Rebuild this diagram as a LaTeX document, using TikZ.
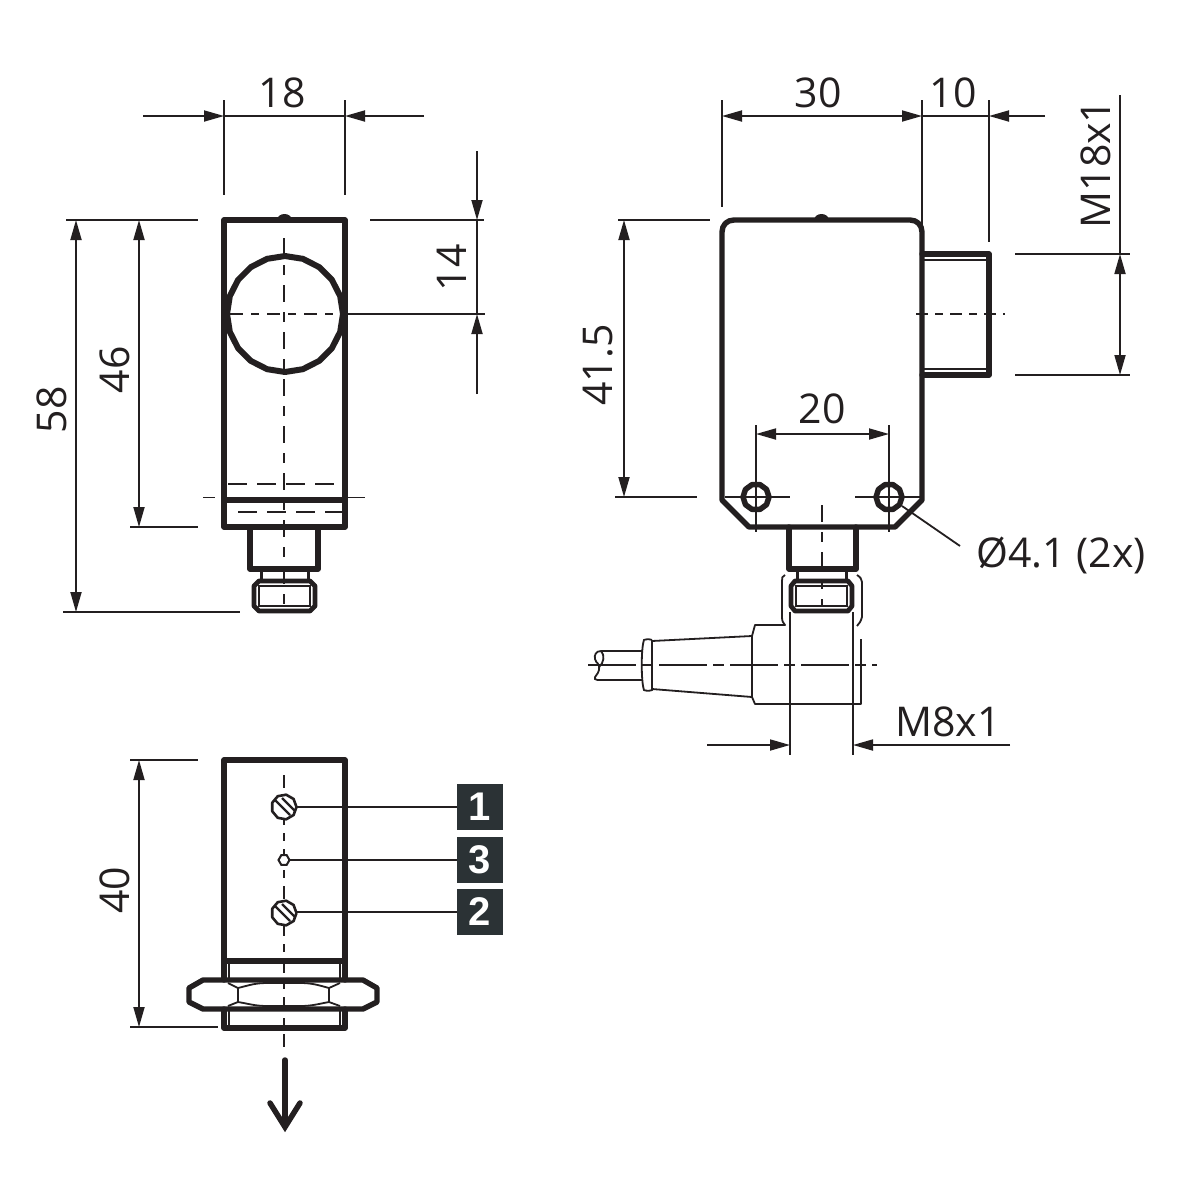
\documentclass[tikz,border=0pt]{standalone}
\usepackage{fontspec}
\setmainfont{Open Sans}
\newfontfamily\boldf{Liberation Sans}[BoldFont={Liberation Sans Bold}]
\usetikzlibrary{arrows.meta}
\definecolor{ink}{HTML}{231F20}
\definecolor{boxc}{HTML}{2B3235}
\tikzset{
  x=1pt,y=-1pt,
  thick line/.style={draw=ink,line width=5.4pt,line join=round,line cap=round},
  mid line/.style={draw=ink,line width=3pt,line join=round},
  thin line/.style={draw=ink,line width=1.8pt},
  inner line/.style={draw=ink,line width=1.5pt},
  head line/.style={draw=ink,line width=4.8pt,line join=round},
  centre line/.style={draw=ink,line width=2pt,dash pattern=on 17pt off 10pt on 10pt off 10pt},
  cross line/.style={draw=ink,line width=2pt,dash pattern=on 13pt off 8pt on 8pt off 8pt},
  dash line/.style={draw=ink,line width=2pt,dash pattern=on 19pt off 10pt},
  dimarrow/.style={draw=ink,line width=1.8pt,-{Triangle[length=20pt,width=11pt]}},
  dimboth/.style={draw=ink,line width=1.8pt,{Triangle[length=20pt,width=11pt]}-{Triangle[length=20pt,width=11pt]}},
  dimtext/.style={font=\fontsize{41}{41}\selectfont,text=ink,inner sep=0pt},
  numbox/.style={fill=boxc,minimum size=46pt,inner sep=0pt,text=white,font=\boldf\bfseries\fontsize{40}{40}\selectfont},
  leader/.style={draw=ink,line width=2.2pt},
}
\begin{document}
\begin{tikzpicture}
\useasboundingbox (0,0) rectangle (1200,1200);
\fill[white] (0,0) rectangle (1200,1200);

% ---------- View 1 ----------
\fill[ink] (277,220) .. controls (278,212) and (291,212) .. (292,220) -- cycle;
\draw[thick line] (224,220) rectangle (345,527);
\draw[draw=ink,line width=6pt,line join=round] plot[samples=21,domain=0:360] ({285+58*cos(\x)},{314+58*sin(\x)});
\draw[centre line] (283.5,238) -- (283.5,605);
\draw[cross line] (230,314) -- (342,314);
\draw[thin line] (342,314) -- (485,314);
\draw[thick line,line cap=butt,line width=6pt] (224,500) -- (345,500);
\draw[thin line] (203,497.5) -- (215,497.5) (345,497.5) -- (365,497.5);
\draw[dash line] (228,484) -- (343,484) (238,512) -- (343,512);
\draw[thick line] (250,527) -- (250,569) -- (318,569) -- (318,527);
\draw[mid line] (261,569) -- (261,583) (308,569) -- (308,583);
\draw[head line] (259,581) -- (310,581) -- (315,586) -- (315,606) -- (310,611) -- (259,611) -- (254,606) -- (254,586) -- cycle;
\draw[inner line] (258,586) -- (311,586) (258,606) -- (311,606) (259,586) -- (259,606) (310,586) -- (310,606);

% dimensions view 1
\draw[thin line] (224,100) -- (224,195) (345,100) -- (345,195);
\draw[dimarrow] (143,116) -- (224,116);
\draw[dimarrow] (424,116) -- (345,116);
\draw[thin line] (224,116) -- (345,116);
\node[dimtext] (t18) at (282,93) {18};
\draw[thin line] (66,220) -- (198,220) (370,220) -- (484,220);
\draw[thin line] (130,527) -- (198,527) (63,612) -- (240,612);
\draw[dimboth] (76,220) -- (76,612);
\node[dimtext,rotate=90] (t58) at (52,410) {58};
\draw[dimboth] (139,220) -- (139,527);
\node[dimtext,rotate=90] (t46) at (115,370) {46};
\draw[dimarrow] (477,151) -- (477,220);
\draw[dimarrow] (477,394) -- (477,314);
\draw[thin line] (477,220) -- (477,314);
\node[dimtext,rotate=90] (t14) at (452,268) {14};

% ---------- View 2 ----------
\fill[ink] (814,220) .. controls (815,212) and (828,212) .. (829,220) -- cycle;
\draw[thick line] (722,500) -- (722,232) .. controls (722,225) and (727,220) .. (734,220) -- (910,220) .. controls (917,220) and (922,225) .. (922,232) -- (922,500) -- (895,527) -- (749,527) -- cycle;
% barrel
\draw[thick line] (922,254) -- (989,254) -- (989,375) -- (922,375);
\draw[inner line] (924,260) -- (987,260) (924,369) -- (987,369);
\draw[cross line,dash pattern=on 12pt off 7pt on 8pt off 7pt] (916,314) -- (1005,314);
% holes
\draw[draw=ink,line width=5.5pt,line join=round] plot[samples=11,domain=0:360] ({756+13*cos(\x)},{497+13*sin(\x)});
\draw[draw=ink,line width=5.5pt,line join=round] plot[samples=11,domain=0:360] ({889+13*cos(\x)},{497+13*sin(\x)});
\draw[thin line] (756,425) -- (756,532) (889,425) -- (889,532);
\draw[thin line] (725,497) -- (790,497) (855,497) -- (920,497);
\draw[thin line] (902,506) -- (960,546);
% connector
\draw[thick line] (789,527) -- (789,569) -- (856,569) -- (856,527);
\draw[mid line] (797,569) -- (797,583) (846,569) -- (846,583);
\draw[head line] (795,581) -- (848,581) -- (852,586) -- (852,606) -- (848,611) -- (795,611) -- (791,606) -- (791,586) -- cycle;
\draw[inner line] (795,586) -- (848,586) (795,606) -- (848,606) (796,586) -- (796,606) (847,586) -- (847,606);
\draw[centre line] (821.5,505) -- (821.5,606);
% plug
\draw[thin line,line join=round] (785,575) .. controls (782,576) and (782,578) .. (782,581) -- (782,617) .. controls (782,621) and (783,623) .. (785,625) -- (755,625) -- (752,636) -- (752,697) -- (755,704) -- (861,704) -- (861,639);
\draw[thin line] (857,575) .. controls (860,577) and (862,579) .. (862,582) -- (862,617) .. controls (861,621) and (859,624) .. (857,626);
\draw[thin line] (752,636) -- (652,641) (752,697) -- (652,689);
\draw[thin line] (652,640) -- (652,690) .. controls (650,691) and (646,691) .. (644,690) .. controls (641,682) and (641,648) .. (644,640) .. controls (646,639) and (650,639) .. (652,640);
\draw[thin line] (642,651) -- (601,651) .. controls (596,651) and (594,655) .. (595,659) .. controls (596,664) and (600,662) .. (599,670) .. controls (598,675) and (594,676) .. (595,679) .. controls (596,680) and (598,680) .. (600,680) -- (642,680);
\draw[thin line] (601,651) .. controls (605,655) and (604,663) .. (599,667);
\draw[draw=ink,line width=1.8pt,dash pattern=on 48pt off 6pt on 11pt off 6pt] (588,665) -- (877,665);
% dimensions view 2
\draw[thin line] (722,100) -- (722,207) (922,100) -- (922,225) (989,100) -- (989,242);
\draw[dimboth] (722,116) -- (922,116);
\draw[thin line] (922,116) -- (989,116);
\draw[dimarrow] (1045,116) -- (989,116);
\node[dimtext] (t30) at (818,93) {30};
\node[dimtext] (t10) at (953,93) {10};
\draw[thin line] (1015,254) -- (1130,254) (1015,375) -- (1130,375);
\draw[thin line] (1120,95) -- (1120,254);
\draw[dimboth] (1120,254) -- (1120,375);
\node[dimtext,rotate=90] (tm18) at (1096,164) {M18x1};
\draw[thin line] (618,220) -- (710,220) (615,497) -- (697,497);
\draw[dimboth] (624,220) -- (624,497);
\node[dimtext,rotate=90] (t415) at (598,365) {41.5};
\draw[dimboth] (756,434) -- (889,434);
\node[dimtext] (t20) at (822,409) {20};
\node[dimtext] (tdia) at (1061,555) {Ø4.1 (2x)};
\node[dimtext] (tm8) at (948,722) {M8x1};
\draw[thin line] (790,612) -- (790,755) (853,612) -- (853,755);
\draw[dimarrow] (707,745) -- (790,745);
\draw[dimarrow] (1010,745) -- (853,745);

% ---------- View 3 ----------
\draw[thick line] (224,980) -- (224,760) -- (345,760) -- (345,980);
\draw[thick line] (224,961) -- (345,961);
\draw[thick line] (224,1009) -- (224,1028) -- (345,1028) -- (345,1009);
\draw[inner line] (229,961) -- (229,980) (340,961) -- (340,980) (229,1009) -- (229,1028) (340,1009) -- (340,1028);
\draw[cross line] (284,775) -- (284,1050);
\draw[thick line,line width=5.4pt] (189,988) -- (203,980) -- (363,980) -- (377,988) -- (377,1002) -- (363,1009) -- (203,1009) -- (189,1002) -- cycle;
\draw[inner line,line width=1.8pt] (238,988) -- (238,1002) (329,988) -- (329,1002);
\draw[inner line,line width=1.8pt] (228,983) -- (238,988) .. controls (250,985) and (255,983) .. (268,983) -- (300,983) .. controls (312,983) and (318,985) .. (329,988) -- (340,983);
\draw[inner line,line width=1.8pt] (228,1006) -- (238,1002) .. controls (250,1004) and (255,1006) .. (268,1006) -- (300,1006) .. controls (312,1006) and (318,1004) .. (329,1002) -- (340,1006);
\draw[draw=ink,line width=5.5pt,line cap=round] (285,1060) -- (285,1125);
\draw[draw=ink,line width=5.5pt,line cap=round,line join=miter] (270,1103) -- (285,1127) -- (300,1103);
% screws
\foreach \n/\yy in {a/807,b/913}{
  \draw[draw=ink,line width=2.6pt,fill=white,line join=round] plot[samples=10,domain=0:360] ({284+12.5*cos(\x)},{\yy+12.5*sin(\x)});
  \draw[draw=ink,line width=2.4pt] (282,\yy-9) -- (295,\yy+4) (275,\yy-7) -- (290,\yy+8);
}
\draw[draw=ink,line width=2pt,fill=white] plot[samples=7,domain=0:360] ({284+5.5*cos(\x)},{860+5.5*sin(\x)});
% terminals
\node[numbox] (b1) at (480,807) {1};
\node[numbox] (b3) at (480,860) {3};
\node[numbox] (b2) at (480,912) {2};
\coordinate (s1) at (296,807);
\coordinate (s3) at (290,860);
\coordinate (s2) at (296,912);
\draw[leader] (s1) -- (b1.west);
\draw[leader] (s3) -- (b3.west);
\draw[leader] (s2) -- (b2.west);
% dimension view 3
\draw[thin line] (130,760) -- (198,760) (130,1027) -- (218,1027);
\draw[dimboth] (139,760) -- (139,1027);
\node[dimtext,rotate=90] (t40) at (115,890) {40};
\end{tikzpicture}
\end{document}
